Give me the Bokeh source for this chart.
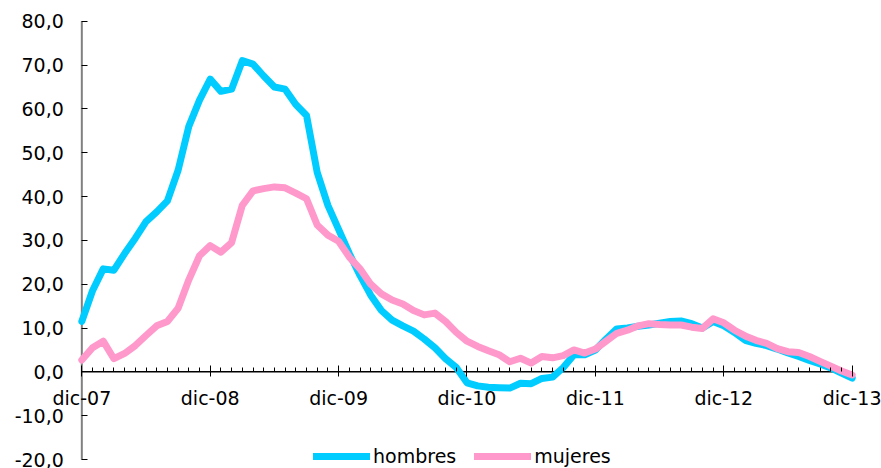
from bokeh.plotting import figure
from bokeh.models import FixedTicker, Legend, LegendItem, ColumnDataSource
from bokeh.embed import file_html
from bokeh.resources import INLINE

x_tick_labels = ["dic-07", "dic-08", "dic-09", "dic-10", "dic-11", "dic-12", "dic-13"]
y_ticks = [-20, -10, 0, 10, 20, 30, 40, 50, 60, 70, 80]
y_tick_labels = ["-20,0", "-10,0", "0,0", "10,0", "20,0", "30,0", "40,0", "50,0", "60,0", "70,0", "80,0"]

hombres = [11.5, 18.5, 23.5, 23.2, 27.0, 30.5, 34.3, 36.5, 39.0, 46.0, 56.0, 62.0,
           66.8, 64.0, 64.5, 71.0, 70.2, 67.5, 65.0, 64.5, 61.0, 58.5, 45.5, 38.0,
           32.5, 27.0, 22.0, 17.5, 14.0, 11.8, 10.5, 9.3, 7.5, 5.5, 3.0, 1.0,
           -2.5, -3.2, -3.5, -3.6, -3.7, -2.6, -2.7, -1.5, -1.2, 1.0, 3.9, 3.9,
           5.0, 7.5, 9.8, 10.0, 10.4, 10.7, 11.1, 11.5, 11.6, 11.0, 10.0, 11.5,
           10.5, 9.0, 7.2, 6.5, 6.0, 5.2, 4.3, 3.5, 2.6, 1.8, 0.9, -0.3, -1.4]
mujeres = [2.7, 5.5, 7.0, 3.0, 4.2, 6.0, 8.3, 10.5, 11.5, 14.5, 21.0, 26.5,
           28.8, 27.3, 29.5, 38.0, 41.3, 41.8, 42.2, 42.0, 40.8, 39.5, 33.5, 31.2,
           29.8, 26.2, 23.5, 20.0, 17.8, 16.4, 15.5, 14.0, 13.0, 13.4, 11.5, 9.0,
           7.0, 5.8, 4.8, 3.9, 2.3, 3.1, 2.0, 3.5, 3.2, 3.7, 5.0, 4.3,
           5.2, 7.0, 8.8, 9.5, 10.5, 11.0, 10.8, 10.7, 10.7, 10.2, 9.9, 12.1,
           11.2, 9.5, 8.2, 7.2, 6.5, 5.3, 4.6, 4.4, 3.5, 2.4, 1.3, 0.2, -0.7]

months = list(range(len(hombres)))
src = ColumnDataSource(dict(m=months, h=hombres, w=mujeres))

FONT = "DejaVu Sans"

p = figure(width=881, height=468, x_range=(-7.6, 74.74), y_range=(-22.05, 84.73),
           output_backend="svg", toolbar_location=None,
           min_border_left=0, min_border_right=0, min_border_top=0, min_border_bottom=0)
p.outline_line_color = None
p.grid.visible = False
p.background_fill_color = "white"

# axis lines spanning the chart's own extent
p.segment(x0=[0], y0=[y_ticks[0]], x1=[0], y1=[y_ticks[-1]],
          line_color="#808080", line_width=2)
p.segment(x0=[0], y0=[0], x1=[months[-1]], y1=[0],
          line_color="black", line_width=1.5)

r1 = p.line("m", "h", source=src, line_color="#00CCFF", line_width=7,
            line_join="round", line_cap="round")
r2 = p.line("m", "w", source=src, line_color="#FF99CC", line_width=7,
            line_join="round", line_cap="round")

xa = p.xaxis[0]
xa.fixed_location = 0
xa.ticker = FixedTicker(ticks=[0, 12, 24, 36, 48, 60, 72], minor_ticks=list(range(73)))
xa.major_label_overrides = {12 * i: lab for i, lab in enumerate(x_tick_labels)}
xa.axis_line_color = None
xa.major_tick_in = 6
xa.major_tick_out = 5
xa.minor_tick_in = 4
xa.minor_tick_out = 0
xa.major_tick_line_color = "black"
xa.minor_tick_line_color = "black"
xa.major_label_text_font = FONT
xa.major_label_text_font_size = "19px"
xa.major_label_text_color = "black"
xa.major_label_standoff = 10

ya = p.yaxis[0]
ya.fixed_location = 0
ya.ticker = FixedTicker(ticks=y_ticks, minor_ticks=[])
ya.major_label_overrides = {t: lab for t, lab in zip(y_ticks, y_tick_labels)}
ya.axis_line_color = None
ya.major_tick_in = 6
ya.major_tick_out = 0
ya.major_tick_line_color = "black"
ya.major_label_text_font = FONT
ya.major_label_text_font_size = "19px"
ya.major_label_text_color = "black"
ya.major_label_standoff = 18

legend = Legend(items=[LegendItem(label="hombres", renderers=[r1]),
                       LegendItem(label="mujeres", renderers=[r2])],
                orientation="horizontal", location=(313, 1),
                glyph_width=57, glyph_height=20, label_standoff=3, spacing=18,
                padding=0, margin=0, border_line_color=None,
                background_fill_alpha=0,
                label_text_font=FONT, label_text_font_size="19px",
                label_text_color="black")
p.add_layout(legend, "center")

open("out.html", "w").write(file_html(p, INLINE))
